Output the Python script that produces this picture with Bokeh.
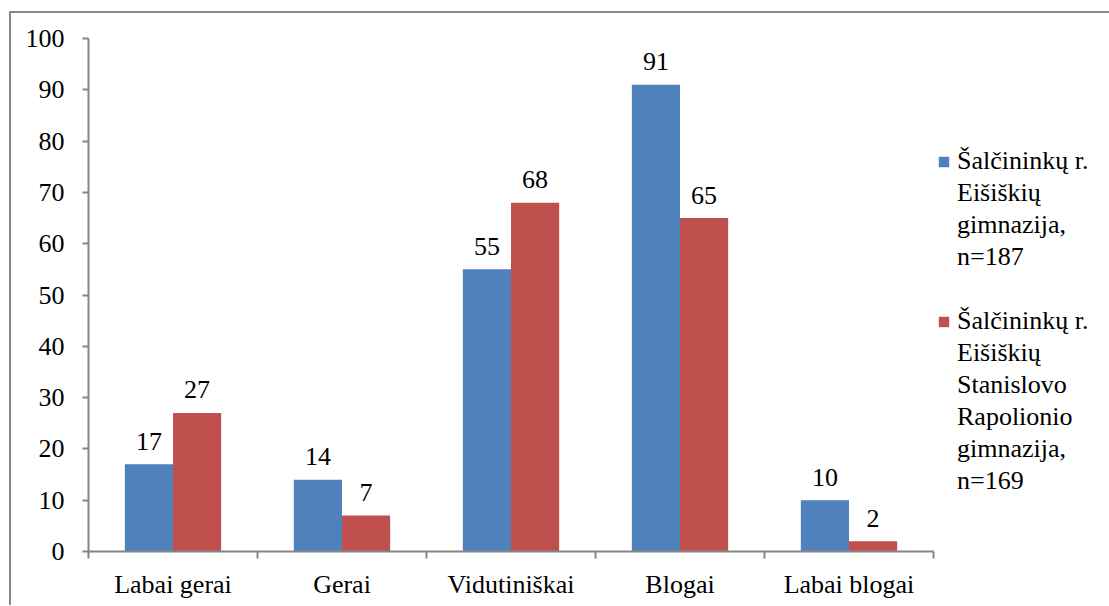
from bokeh.plotting import figure
from bokeh.models import FixedTicker, Legend, LegendItem, ColumnDataSource, Range1d
from bokeh.core.properties import value
from bokeh.embed import file_html
from bokeh.resources import INLINE

categories = ["Labai gerai", "Gerai", "Vidutiniškai", "Blogai", "Labai blogai"]
series1_lines = ["Šalčininkų r.", "Eišiškių", "gimnazija,", "n=187"]
series2_lines = ["Šalčininkų r.", "Eišiškių", "Stanislovo", "Rapolionio", "gimnazija,", "n=169"]
series1 = [17, 14, 55, 91, 10]
series2 = [27, 7, 68, 65, 2]
y_ticks = [0, 10, 20, 30, 40, 50, 60, 70, 80, 90, 100]

FONT = "Liberation Serif"
FS = "26px"
BLUE = "#4F81BD"
RED = "#C0504D"
GRAY = "#868686"
BW = 0.285

n = len(categories)
centers = [i + 0.5 for i in range(n)]
x1 = [c - BW / 2 for c in centers]
x2 = [c + BW / 2 for c in centers]

p = figure(output_backend="svg", toolbar_location=None,
           x_range=Range1d(0, n), y_range=Range1d(0, 100),
           frame_width=845, frame_height=513,
           min_border_left=77, min_border_right=176, min_border_top=25, min_border_bottom=54)
p.outline_line_color = None
p.grid.visible = False
p.background_fill_color = "white"
p.border_fill_color = "white"
p.styles = {"border-left": "2px solid #888888", "border-top": "2px solid #888888",
            "margin-top": "11px", "margin-left": "9px"}

s1 = ColumnDataSource(dict(x=x1, top=series1, lab=[str(v) for v in series1]))
s2 = ColumnDataSource(dict(x=x2, top=series2, lab=[str(v) for v in series2]))
r1 = p.vbar(x="x", top="top", width=BW, source=s1, fill_color=BLUE, line_color=None)
r2 = p.vbar(x="x", top="top", width=BW, source=s2, fill_color=RED, line_color=None)
# invisible renderer used only for the continuation lines of the legend labels
r_blank = p.vbar(x=[], top=[], width=BW, fill_alpha=0, line_alpha=0)

for s in (s1, s2):
    p.text(x="x", y="top", text="lab", source=s, text_align="center",
           text_baseline="alphabetic", y_offset=-23,
           text_font=value(FONT), text_font_size=FS, text_color="black")

# x axis
xa = p.xaxis[0]
xa.ticker = FixedTicker(ticks=centers, minor_ticks=list(range(n + 1)))
xa.major_label_overrides = {c: cat for c, cat in zip(centers, categories)}
xa.major_tick_line_color = None
xa.major_tick_out = 0
xa.major_tick_in = 0
xa.minor_tick_line_color = GRAY
xa.minor_tick_line_width = 2
xa.minor_tick_out = 7
xa.minor_tick_in = 0
xa.axis_line_color = GRAY
xa.axis_line_width = 2
xa.major_label_standoff = 11
xa.major_label_text_font = FONT
xa.major_label_text_font_size = FS
xa.major_label_text_color = "black"

ya = p.yaxis[0]
ya.ticker = FixedTicker(ticks=y_ticks, minor_ticks=[])
ya.major_tick_line_color = GRAY
ya.major_tick_line_width = 2
ya.major_tick_out = 6
ya.major_tick_in = 0
ya.minor_tick_line_color = None
ya.axis_line_color = GRAY
ya.axis_line_width = 2
ya.major_label_standoff = 18
ya.major_label_text_font = FONT
ya.major_label_text_font_size = FS
ya.major_label_text_color = "black"

items = [LegendItem(label=series1_lines[0], renderers=[r1])]
items += [LegendItem(label=t, renderers=[r_blank]) for t in series1_lines[1:]]
items += [LegendItem(label=" ", renderers=[r_blank])]
items += [LegendItem(label=series2_lines[0], renderers=[r2])]
items += [LegendItem(label=t, renderers=[r_blank]) for t in series2_lines[1:]]

legend = Legend(items=items,
                location=(4, 54), padding=0, margin=0, spacing=0,
                border_line_color=None, background_fill_alpha=0,
                glyph_width=13, glyph_height=13, label_standoff=7, label_height=32,
                label_text_font=FONT, label_text_font_size=FS,
                label_text_color="black")
p.add_layout(legend, "right")

open("out.html", "w").write(file_html(p, INLINE))
